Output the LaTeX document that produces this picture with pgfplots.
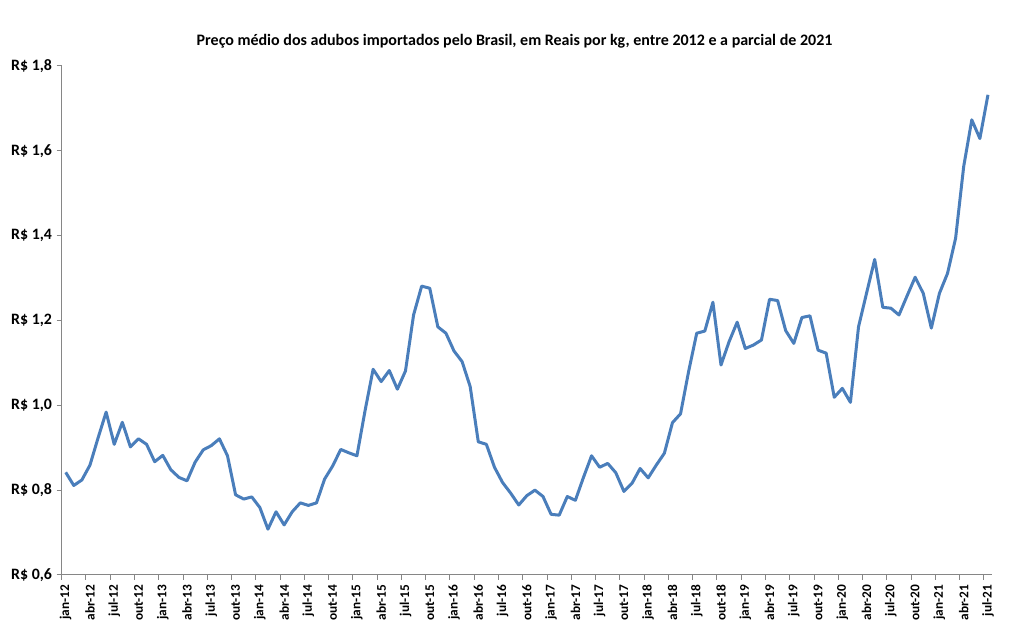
\documentclass[border=0pt]{standalone}
\usepackage{fontspec}
\setmainfont{Carlito}
\usepackage{pgfplots}
\pgfplotsset{compat=1.18}
\usepackage{pgfplotstable}

\definecolor{linha}{HTML}{4A7EBB}
\definecolor{eixo}{HTML}{868686}

% preco medio (R$/kg), meses jan-12 (0) a jul-21 (114)
\pgfplotstableread{
m preco
0 0.842
1 0.811
2 0.824
3 0.859
4 0.923
5 0.984
6 0.908
7 0.960
8 0.902
9 0.921
10 0.908
11 0.867
12 0.882
13 0.848
14 0.830
15 0.822
16 0.866
17 0.895
18 0.905
19 0.921
20 0.881
21 0.789
22 0.779
23 0.784
24 0.759
25 0.708
26 0.749
27 0.718
28 0.749
29 0.770
30 0.764
31 0.770
32 0.826
33 0.857
34 0.896
35 0.888
36 0.881
37 0.987
38 1.085
39 1.056
40 1.082
41 1.038
42 1.081
43 1.213
44 1.281
45 1.276
46 1.185
47 1.170
48 1.128
49 1.103
50 1.044
51 0.914
52 0.908
53 0.854
54 0.818
55 0.793
56 0.765
57 0.787
58 0.800
59 0.785
60 0.743
61 0.741
62 0.785
63 0.776
64 0.830
65 0.881
66 0.854
67 0.863
68 0.841
69 0.797
70 0.816
71 0.851
72 0.829
73 0.859
74 0.887
75 0.959
76 0.980
77 1.080
78 1.170
79 1.175
80 1.243
81 1.095
82 1.150
83 1.196
84 1.134
85 1.142
86 1.154
87 1.250
88 1.247
89 1.176
90 1.146
91 1.207
92 1.211
93 1.130
94 1.123
95 1.019
96 1.040
97 1.007
98 1.185
99 1.265
100 1.344
101 1.231
102 1.229
103 1.213
104 1.258
105 1.302
106 1.264
107 1.182
108 1.264
109 1.311
110 1.394
111 1.563
112 1.673
113 1.629
114 1.732
}\precos

\begin{document}
\begin{tikzpicture}
\begin{axis}[
    scale only axis,
    width=697.8pt, height=381.75pt,
    xmin=-0.5, xmax=114.5,
    ymin=0.6, ymax=1.8,
    axis lines=left,
    axis line style={eixo, -, line width=0.75pt},
    every tick/.style={eixo, line width=0.75pt},
    tick align=outside,
    major tick length=3.75pt,
    font=\bfseries\fontsize{10}{12}\selectfont,
    /pgf/number format/assume math mode=true,
    title={Preço médio dos adubos importados pelo Brasil, em Reais por kg, entre 2012 e a parcial de 2021},
    title style={at={(0.4868,1)}, anchor=center, yshift=12.75pt, font=\bfseries\fontsize{12}{14}\selectfont},
    ytick={0.6,0.8,...,1.8},
    yticklabel={R\$ \pgfmathprintnumber[fixed,fixed zerofill,precision=1,use comma]{\tick}},
    yticklabel style={font=\bfseries\fontsize{11.9}{14}\selectfont},
    xtick={0,3,...,114},
    x tick style={draw=none},
    xticklabels={jan-12,abr-12,jul-12,out-12,jan-13,abr-13,jul-13,out-13,jan-14,abr-14,jul-14,out-14,jan-15,abr-15,jul-15,out-15,jan-16,abr-16,jul-16,out-16,jan-17,abr-17,jul-17,out-17,jan-18,abr-18,jul-18,out-18,jan-19,abr-19,jul-19,out-19,jan-20,abr-20,jul-20,out-20,jan-21,abr-21,jul-21},
    xticklabel style={rotate=90, anchor=east},
    extra x ticks={-0.5,2.5,...,113.5},
    extra x tick labels={},
    extra x tick style={x tick style={draw=eixo}},
    clip=false,
]
\addplot[linha, line width=2.25pt, line join=round] table[x=m, y=preco] {\precos};
\end{axis}
\pgfresetboundingbox
\path[use as bounding box] ([xshift=-46.24pt,yshift=-42.75pt]current axis.south west) rectangle ([xshift=15.75pt,yshift=49.5pt]current axis.north east);
\end{tikzpicture}
\end{document}
